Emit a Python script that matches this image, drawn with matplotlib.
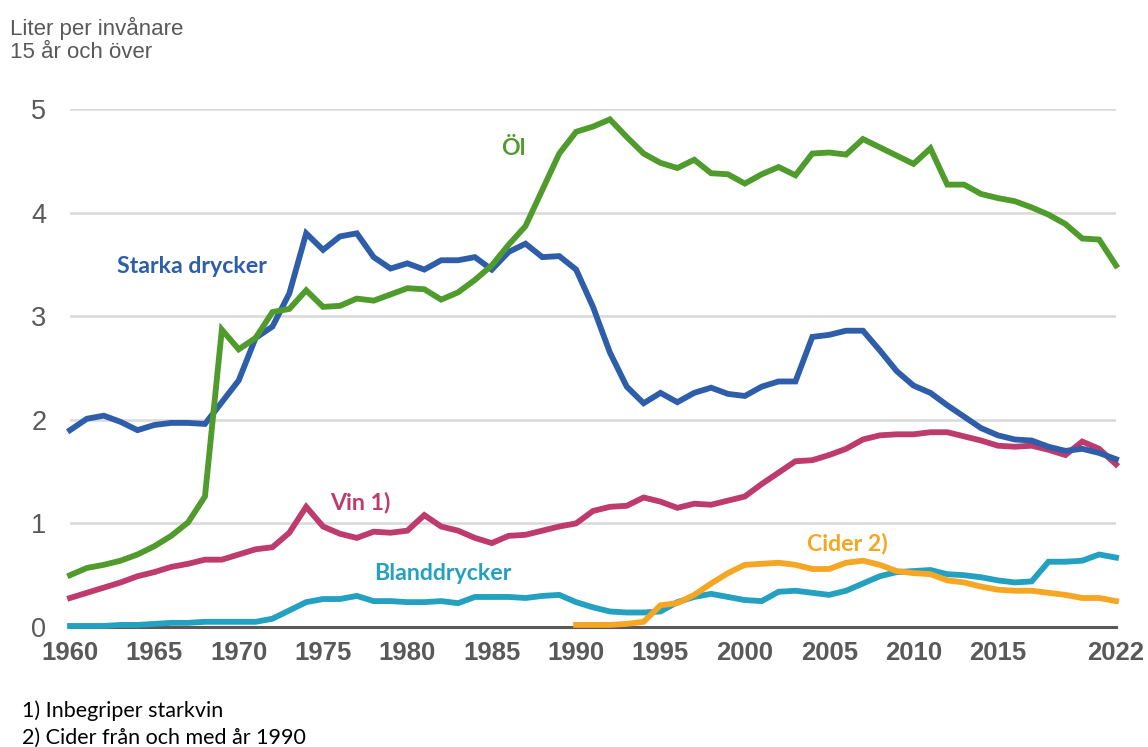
import matplotlib
matplotlib.use("Agg")
import matplotlib.pyplot as plt
import numpy as np

# years for the full series and for cider (from 1990)
years = list(range(1960, 2023))
cider_years = list(range(1990, 2023))

# liter per invånare 15 år och över
starka = [1.90, 2.01, 2.04, 1.98, 1.90, 1.95, 1.97, 1.97, 1.96, 2.17,
          2.38, 2.79, 2.90, 3.22, 3.80, 3.64, 3.77, 3.80, 3.57, 3.46,
          3.51, 3.45, 3.54, 3.54, 3.57, 3.45, 3.62, 3.70, 3.57, 3.58,
          3.45, 3.09, 2.65, 2.32, 2.16, 2.26, 2.17, 2.26, 2.31, 2.25,
          2.23, 2.32, 2.37, 2.37, 2.80, 2.82, 2.86, 2.86, 2.67, 2.47,
          2.33, 2.26, 2.14, 2.03, 1.92, 1.85, 1.81, 1.80, 1.74, 1.70,
          1.72, 1.68, 1.62]
ol = [0.50, 0.57, 0.60, 0.64, 0.70, 0.78, 0.88, 1.01, 1.26, 2.87,
      2.68, 2.79, 3.04, 3.07, 3.25, 3.09, 3.10, 3.17, 3.15, 3.21,
      3.27, 3.26, 3.16, 3.23, 3.35, 3.49, 3.69, 3.87, 4.22, 4.57,
      4.78, 4.83, 4.90, 4.73, 4.57, 4.48, 4.43, 4.51, 4.38, 4.37,
      4.28, 4.37, 4.44, 4.36, 4.57, 4.58, 4.56, 4.71, 4.63, 4.55,
      4.47, 4.62, 4.27, 4.27, 4.18, 4.14, 4.11, 4.05, 3.98, 3.89,
      3.75, 3.74, 3.49]
vin = [0.28, 0.33, 0.38, 0.43, 0.49, 0.53, 0.58, 0.61, 0.65, 0.65,
       0.70, 0.75, 0.77, 0.91, 1.16, 0.97, 0.90, 0.86, 0.92, 0.91,
       0.93, 1.08, 0.97, 0.93, 0.86, 0.81, 0.88, 0.89, 0.93, 0.97,
       1.00, 1.12, 1.16, 1.17, 1.25, 1.21, 1.15, 1.19, 1.18, 1.22,
       1.26, 1.38, 1.49, 1.60, 1.61, 1.66, 1.72, 1.81, 1.85, 1.86,
       1.86, 1.88, 1.88, 1.84, 1.80, 1.75, 1.74, 1.75, 1.71, 1.66,
       1.79, 1.72, 1.57]
bland = [0.01, 0.01, 0.01, 0.02, 0.02, 0.03, 0.04, 0.04, 0.05, 0.05,
         0.05, 0.05, 0.08, 0.16, 0.24, 0.27, 0.27, 0.30, 0.25, 0.25,
         0.24, 0.24, 0.25, 0.23, 0.29, 0.29, 0.29, 0.28, 0.30, 0.31,
         0.24, 0.19, 0.15, 0.14, 0.14, 0.15, 0.24, 0.29, 0.32, 0.29,
         0.26, 0.25, 0.34, 0.35, 0.33, 0.31, 0.35, 0.42, 0.49, 0.53,
         0.54, 0.55, 0.51, 0.50, 0.48, 0.45, 0.43, 0.44, 0.63, 0.63,
         0.64, 0.70, 0.67]
cider = [0.02, 0.02, 0.02, 0.03, 0.05, 0.21, 0.23, 0.31, 0.42, 0.52,
         0.60, 0.61, 0.62, 0.60, 0.56, 0.56, 0.62, 0.64, 0.60, 0.54,
         0.52, 0.51, 0.45, 0.43, 0.39, 0.36, 0.35, 0.35, 0.33, 0.31,
         0.28, 0.28, 0.25]

xtick_years = [1960, 1965, 1970, 1975, 1980, 1985, 1990, 1995, 2000, 2005, 2010, 2015, 2022]

c_blue = "#2E5EAA"
c_green = "#4F9B2C"
c_pink = "#BE3B6E"
c_teal = "#24A1C1"
c_orange = "#F5A623"
c_gray = "#595959"

fig = plt.figure(figsize=(11.48, 7.47), dpi=100)
ax = fig.add_axes([70 / 1148, 120 / 747, 1046 / 1148, 518 / 747])

lw = 4.2
ax.plot(years, bland, color=c_teal, lw=lw, solid_joinstyle="miter", clip_on=False, zorder=3)
ax.plot(cider_years, cider, color=c_orange, lw=lw, solid_joinstyle="miter", clip_on=False, zorder=3)
ax.plot(years, vin, color=c_pink, lw=lw, solid_joinstyle="miter", clip_on=False, zorder=3)
ax.plot(years, starka, color=c_blue, lw=lw, solid_joinstyle="miter", clip_on=False, zorder=3)
ax.plot(years, ol, color=c_green, lw=lw, solid_joinstyle="miter", clip_on=False, zorder=3)

ax.set_xlim(1960, 2022)
ax.set_ylim(0, 5)
ax.set_yticks(range(0, 6))
ax.set_xticks(xtick_years)
ax.set_xticklabels([str(y) for y in xtick_years], fontsize=18.5, fontweight="bold",
                   color=c_gray, family="Liberation Sans")
ax.set_yticklabels([str(v) for v in range(0, 6)], fontsize=19.5, color=c_gray,
                   family="Liberation Sans")
ax.tick_params(axis="both", length=0)
ax.tick_params(axis="y", pad=17)
ax.tick_params(axis="x", pad=10)
ax.grid(axis="y", color="#D9D9D9", lw=1.8, zorder=0)
for s in ["top", "right", "left"]:
    ax.spines[s].set_visible(False)
ax.spines["bottom"].set_color(c_gray)
ax.spines["bottom"].set_linewidth(2.2)
ax.spines["bottom"].set_zorder(2)

# series labels
lab = dict(family="Lato", fontweight="bold", fontsize=16.7, ha="center", va="center")
ax.text(1967.2, 3.48, "Starka drycker", color=c_blue, **lab)
ax.text(1986.3, 4.62, "Öl", color=c_green, **lab)
ax.text(1977.2, 1.20, "Vin 1)", color=c_pink, **lab)
ax.text(1982.1, 0.52, "Blanddrycker", color=c_teal, **lab)
ax.text(2006.1, 0.81, "Cider 2)", color=c_orange, **lab)

# unit text top left
fig.text(10 / 1148, 1 - 28 / 747, "Liter per invånare", fontsize=16, color=c_gray,
         family="Liberation Sans", va="center", ha="left")
fig.text(10 / 1148, 1 - 53 / 747, "15 år och över", fontsize=16, color=c_gray,
         family="Liberation Sans", va="center", ha="left")

# footnotes
fig.text(22 / 1148, 1 - 711 / 747, "1) Inbegriper starkvin", fontsize=15.5, color="black",
         family="Lato", va="center", ha="left")
fig.text(22 / 1148, 1 - 738 / 747, "2) Cider från och med år 1990", fontsize=15.5, color="black",
         family="Lato", va="center", ha="left")

fig.savefig("out.png", dpi=100)
